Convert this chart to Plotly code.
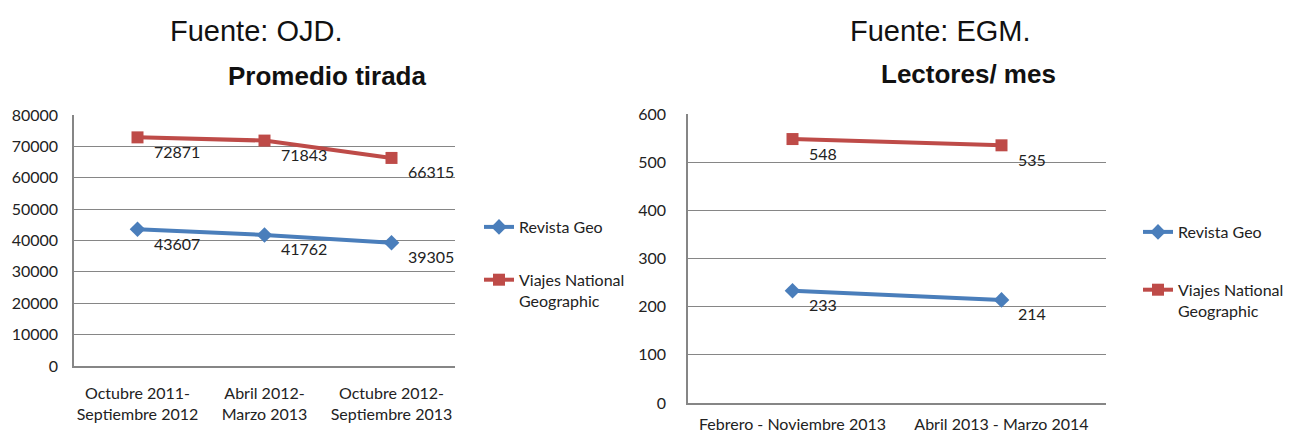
import plotly.graph_objects as go

# ---- data ----
cats_tirada = ["Octubre 2011-<br>Septiembre 2012", "Abril 2012-<br>Marzo 2013", "Octubre 2012-<br>Septiembre 2013"]
geo_tirada = [43607, 41762, 39305]
nat_tirada = [72871, 71843, 66315]

cats_lectores = ["Febrero - Noviembre 2013", "Abril 2013 - Marzo 2014"]
geo_lectores = [233, 214]
nat_lectores = [548, 535]

series_names = ["Revista Geo", "Viajes National<br>Geographic"]
titles = ["Promedio tirada", "Lectores/ mes"]
sources = ["Fuente: OJD.", "Fuente: EGM."]

W, H = 1291, 434
OFF = 8  # page body margin
BLUE = "#4A7EBB"
RED = "#BE4B48"
GRID = "#868686"
FONT = "Lato"

def px(x):
    return (x - OFF) / W

def py(y):
    return 1 - (y - OFF) / H

fig = go.Figure()

def lab(vals):
    return ["\u2002" + str(v) for v in vals]

def add_pair(cats, geo, nat, xa, ya, leg):
    fig.add_trace(go.Scatter(
        x=cats, y=geo, name=series_names[0], mode="lines+markers+text",
        text=lab(geo), textposition="bottom right",
        textfont=dict(family=FONT, size=16, color="#222222"),
        line=dict(color=BLUE, width=4),
        marker=dict(symbol="diamond", size=12, color=BLUE),
        xaxis=xa, yaxis=ya, legend=leg, legendgroup="g1", cliponaxis=False,
    ))
    fig.add_trace(go.Scatter(
        x=cats, y=nat, name=series_names[1], mode="lines+markers+text",
        text=lab(nat), textposition="bottom right",
        textfont=dict(family=FONT, size=16, color="#222222"),
        line=dict(color=RED, width=4),
        marker=dict(symbol="square", size=12, color=RED),
        xaxis=xa, yaxis=ya, legend=leg, legendgroup="g2", cliponaxis=False,
    ))

add_pair(cats_tirada, geo_tirada, nat_tirada, "x", "y", "legend")
add_pair(cats_lectores, geo_lectores, nat_lectores, "x2", "y2", "legend2")

axis_font = dict(family=FONT, size=16, color="#222222")
common_x = dict(showline=True, linecolor=GRID, linewidth=1.5, showgrid=False,
                tickfont=axis_font, ticks="", fixedrange=True, automargin=False)
common_y = dict(showline=True, linecolor=GRID, linewidth=1.5, showgrid=True,
                gridcolor=GRID, gridwidth=1, zeroline=False, tickfont=axis_font,
                ticks="", fixedrange=True, automargin=False, tickformat="d")

fig.update_layout(
    width=W, height=H,
    margin=dict(l=0, r=0, t=0, b=0, autoexpand=False),
    paper_bgcolor="white", plot_bgcolor="white",
    xaxis=dict(domain=[px(74), px(455)], anchor="y", range=[-0.5, 2.5],
               ticklabelstandoff=12, **common_x),
    yaxis=dict(domain=[py(366), py(115)], anchor="x", range=[0, 80000], dtick=10000,
               ticklabelstandoff=11, **common_y),
    xaxis2=dict(domain=[px(688), px(1106)], anchor="y2", range=[-0.5, 1.5],
                ticklabelstandoff=6, **common_x),
    yaxis2=dict(domain=[py(403), py(114)], anchor="x2", range=[0, 600], dtick=100,
                ticklabelstandoff=17, **common_y),
    legend=dict(x=px(479), y=py(210), xanchor="left", yanchor="top",
                font=dict(family=FONT, size=16, color="#222222"),
                traceorder="grouped", tracegroupgap=29, valign="top",
                itemwidth=30, bgcolor="rgba(0,0,0,0)"),
    legend2=dict(x=px(1138), y=py(215), xanchor="left", yanchor="top",
                 font=dict(family=FONT, size=16, color="#222222"),
                 traceorder="grouped", tracegroupgap=34, valign="top",
                 itemwidth=30, bgcolor="rgba(0,0,0,0)"),
    showlegend=True,
)

ann = []
ann.append(dict(text=sources[0], x=px(256), y=py(31), xref="paper", yref="paper",
                xanchor="center", yanchor="middle", showarrow=False,
                font=dict(family="Liberation Sans", size=29, color="#111111")))
ann.append(dict(text=sources[1], x=px(940), y=py(31), xref="paper", yref="paper",
                xanchor="center", yanchor="middle", showarrow=False,
                font=dict(family="Liberation Sans", size=29, color="#111111")))
ann.append(dict(text="<b>" + titles[0] + "</b>", x=px(327), y=py(76), xref="paper", yref="paper",
                xanchor="center", yanchor="middle", showarrow=False,
                font=dict(family="Liberation Sans", size=26, color="#111111")))
ann.append(dict(text="<b>" + titles[1] + "</b>", x=px(968), y=py(74), xref="paper", yref="paper",
                xanchor="center", yanchor="middle", showarrow=False,
                font=dict(family="Liberation Sans", size=26, color="#111111")))
fig.update_layout(annotations=ann)

fig.write_html("out.html")
